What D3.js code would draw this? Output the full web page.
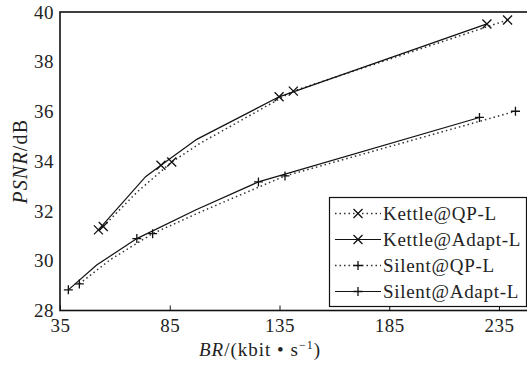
<!DOCTYPE html>
<html>
<head>
<meta charset="utf-8">
<script src="https://cdn.jsdelivr.net/npm/d3@7"></script>
<style>
  body { margin: 0; background: #fff; }
  text { font-family: "Liberation Serif", "DejaVu Serif", serif; fill: #222; }
</style>
</head>
<body>
<div id="chart"></div>
<script>
// values
const xTicks = [35, 85, 135, 185, 235];
const yTicks = [28, 30, 32, 34, 36, 38, 40];

// marker positions
const kettleQP = [[54.7, 31.38], [85.9, 33.97], [141.3, 36.82], [238.9, 39.68]];
const kettleAdapt = [[52.5, 31.24], [81.0, 33.84], [134.8, 36.59], [229.5, 39.52]];
const silentQP = [[43.8, 29.07], [77.2, 31.09], [137.5, 33.41], [242.5, 36.01]];
const silentAdapt = [[38.8, 28.83], [70.0, 30.89], [125.4, 33.17], [226.1, 35.76]];

// extra bends of the drawn curves
const kettleQPBends = [[70.0, 32.75], [98.8, 34.72]];
const kettleAdaptBends = [[74.0, 33.38], [97.3, 34.88]];
const silentQPBends = [[58.0, 30.05], [100.0, 32.00]];
const silentAdaptBends = [[51.7, 29.83], [97.0, 32.05]];

const series = [
  { name: 'Kettle@QP-L', data: kettleQP, bends: kettleQPBends, dotted: true, mark: 'x' },
  { name: 'Kettle@Adapt-L', data: kettleAdapt, bends: kettleAdaptBends, dotted: false, mark: 'x' },
  { name: 'Silent@QP-L', data: silentQP, bends: silentQPBends, dotted: true, mark: '+' },
  { name: 'Silent@Adapt-L', data: silentAdapt, bends: silentAdaptBends, dotted: false, mark: '+' }
];

const W = 527, H = 366;
const margin = { top: 12, left: 60, bottom: 55.5 };
const plotH = H - margin.top - margin.bottom;

const svg = d3.select('#chart').append('svg')
  .attr('width', W).attr('height', H);

const x = d3.scaleLinear().domain([35, 250]).range([margin.left, margin.left + 215 * 2.195]);
const y = d3.scaleLinear().domain([28, 40]).range([margin.top + plotH, margin.top]);

// frame
svg.append('rect')
  .attr('x', x(35)).attr('y', y(40))
  .attr('width', x(250) - x(35)).attr('height', y(28) - y(40))
  .attr('fill', 'none').attr('stroke', '#111').attr('stroke-width', 1.6);

// x axis, ticks pointing inward
const xAxis = svg.append('g')
  .attr('transform', `translate(0,${y(28)})`)
  .call(d3.axisBottom(x).tickValues(xTicks).tickSizeInner(-5).tickSizeOuter(0).tickPadding(8));
xAxis.select('.domain').remove();
xAxis.selectAll('line').attr('stroke', '#111');
xAxis.selectAll('text').style('font-size', '19px').attr('fill', '#333')
  .attr('letter-spacing', '0.5px')
  .attr('font-family', '"Liberation Serif", serif');

const yAxis = svg.append('g')
  .attr('transform', `translate(${x(35)},0)`)
  .call(d3.axisLeft(y).tickValues(yTicks).tickSize(0).tickPadding(6));
yAxis.select('.domain').remove();
yAxis.selectAll('text').style('font-size', '19px').attr('fill', '#333')
  .attr('letter-spacing', '0.5px')
  .attr('font-family', '"Liberation Serif", serif');

// axis titles
svg.append('text')
  .attr('transform', `translate(27,${(y(28) + y(40)) / 2}) rotate(-90)`)
  .attr('text-anchor', 'middle')
  .attr('letter-spacing', '1.2px')
  .style('font-size', '20px')
  .html('<tspan font-style="italic">PSNR</tspan>/dB');

svg.append('text')
  .attr('x', 260).attr('y', 356)
  .attr('text-anchor', 'middle')
  .attr('letter-spacing', '1px')
  .style('font-size', '19px')
  .html('<tspan font-style="italic">BR</tspan>/(kbit • s<tspan dy="-7" font-size="12px">−1</tspan><tspan dy="7">)</tspan>');

const line = d3.line()
  .x(d => x(d[0]))
  .y(d => y(d[1]));

function drawMark(g, cx, cy, type) {
  const r = 4.5;
  if (type === 'x') {
    g.append('path')
      .attr('d', `M${cx - r},${cy - r}L${cx + r},${cy + r}M${cx - r},${cy + r}L${cx + r},${cy - r}`)
      .attr('stroke', '#111').attr('stroke-width', 1.3).attr('fill', 'none');
  } else {
    g.append('path')
      .attr('d', `M${cx - r},${cy}L${cx + r},${cy}M${cx},${cy - r}L${cx},${cy + r}`)
      .attr('stroke', '#111').attr('stroke-width', 1.3).attr('fill', 'none');
  }
}

const plot = svg.append('g');
series.forEach(s => {
  const pts = s.data.concat(s.bends).sort((a, b) => a[0] - b[0]);
  plot.append('path')
    .datum(pts)
    .attr('d', line)
    .attr('fill', 'none')
    .attr('stroke', s.dotted ? '#333' : '#111')
    .attr('stroke-width', s.dotted ? 1.5 : 1.2)
    .attr('stroke-dasharray', s.dotted ? '1.5,3' : null);
  s.data.forEach(d => drawMark(plot, x(d[0]), y(d[1]), s.mark));
});

// legend
const legend = svg.append('g');
legend.append('rect')
  .attr('x', 329.5).attr('y', 197.5).attr('width', 197).attr('height', 109)
  .attr('fill', '#fff').attr('stroke', '#111').attr('stroke-width', 1.2);

series.forEach((s, i) => {
  const ly = 213.5 + i * 26;
  legend.append('line')
    .attr('x1', 335).attr('x2', 381).attr('y1', ly).attr('y2', ly)
    .attr('stroke', s.dotted ? '#333' : '#111')
    .attr('stroke-width', s.dotted ? 1.5 : 1.2)
    .attr('stroke-dasharray', s.dotted ? '1.5,3' : null);
  drawMark(legend, 358, ly, s.mark);
  legend.append('text')
    .attr('x', 383).attr('y', ly)
    .attr('dy', '0.35em')
    .attr('letter-spacing', '0.7px')
    .style('font-size', '19px')
    .text(s.name);
});
</script>
</body>
</html>
